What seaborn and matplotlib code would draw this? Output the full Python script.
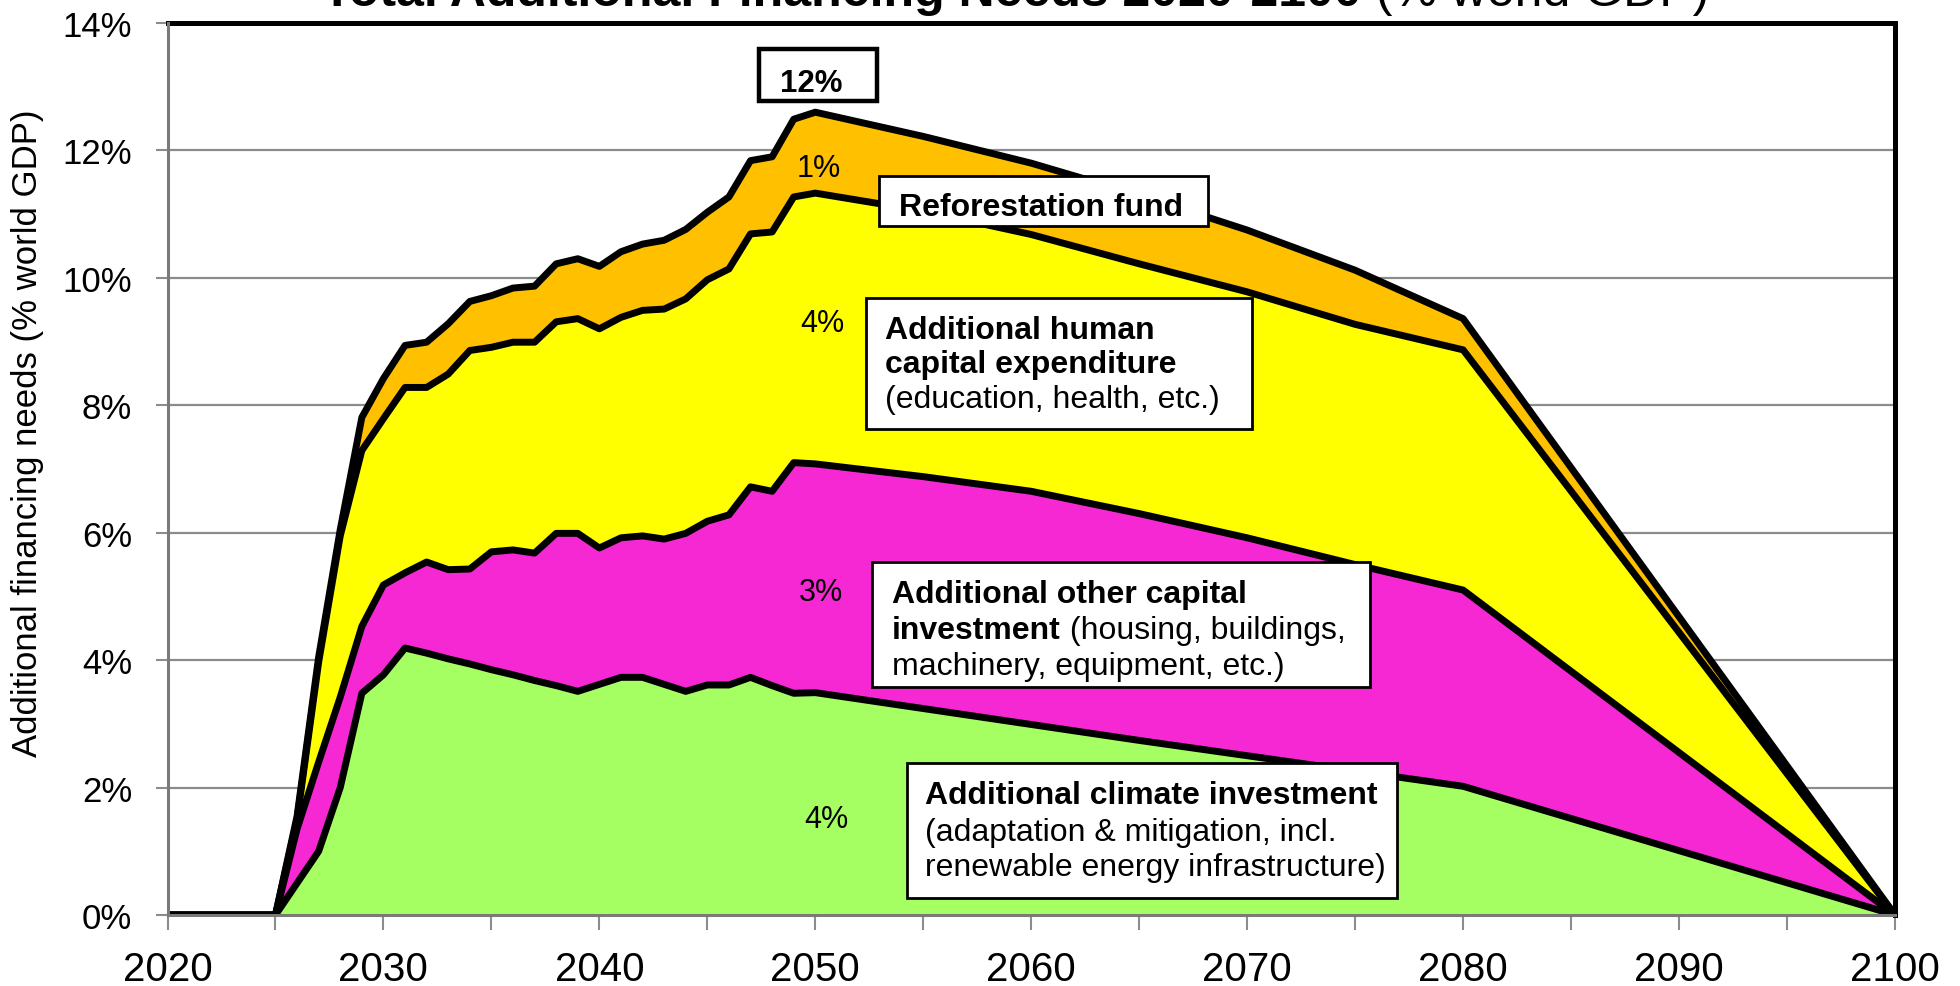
import numpy as np
import matplotlib
matplotlib.use("Agg")
import matplotlib.pyplot as plt
import seaborn as sns
from matplotlib.patches import Rectangle
from matplotlib.text import Annotation
from matplotlib.ticker import FuncFormatter, MultipleLocator

# ---------------- data ----------------
years = [2020, 2021, 2022, 2023, 2024, 2025, 2026, 2027, 2028, 2029,
         2030, 2031, 2032, 2033, 2034, 2035, 2036, 2037, 2038, 2039,
         2040, 2041, 2042, 2043, 2044, 2045, 2046, 2047, 2048, 2049,
         2050, 2055, 2060, 2065, 2070, 2075, 2080, 2100]

# cumulative upper edge of each band (% of world GDP)
top_climate = [0, 0, 0, 0, 0, 0, 0.50, 1.00, 2.00, 3.48,
               3.77, 4.19, 4.11, 4.02, 3.94, 3.85, 3.77, 3.68, 3.60, 3.51,
               3.62, 3.73, 3.73, 3.62, 3.51, 3.61, 3.61, 3.73, 3.60, 3.48,
               3.49, 3.24, 2.99, 2.74, 2.50, 2.26, 2.02, 0]
top_other = [0, 0, 0, 0, 0, 0, 1.35, 2.40, 3.42, 4.53,
             5.18, 5.37, 5.54, 5.42, 5.43, 5.70, 5.73, 5.68, 5.99, 5.99,
             5.76, 5.92, 5.95, 5.90, 5.99, 6.18, 6.28, 6.72, 6.65, 7.10,
             7.08, 6.88, 6.65, 6.30, 5.92, 5.50, 5.10, 0]
top_human = [0, 0, 0, 0, 0, 0, 1.50, 3.97, 5.95, 7.29,
             7.79, 8.28, 8.28, 8.49, 8.86, 8.91, 8.99, 8.99, 9.31, 9.36,
             9.20, 9.38, 9.49, 9.51, 9.67, 9.97, 10.14, 10.69, 10.72, 11.27,
             11.33, 11.05, 10.68, 10.22, 9.78, 9.27, 8.87, 0]
top_total = [0, 0, 0, 0, 0, 0, 1.55, 4.05, 6.05, 7.81,
             8.42, 8.94, 8.99, 9.28, 9.63, 9.72, 9.84, 9.87, 10.22, 10.30,
             10.18, 10.41, 10.53, 10.59, 10.76, 11.03, 11.27, 11.84, 11.90, 12.49,
             12.60, 12.22, 11.80, 11.30, 10.75, 10.12, 9.36, 0]

band_colors = ["#A6FF62", "#F628D4", "#FFFF00", "#FFC000"]
pct_labels = ["4%", "3%", "4%", "1%"]
peak_label = "12%"
y_ticks = [0, 2, 4, 6, 8, 10, 12, 14]
x_ticks = [2020, 2030, 2040, 2050, 2060, 2070, 2080, 2090, 2100]

# ---------------- figure ----------------
sns.set_theme(style="white")
plt.rcParams["font.family"] = ["Liberation Sans", "DejaVu Sans"]
plt.rcParams["text.color"] = "black"
plt.rcParams["axes.labelcolor"] = "black"

W, H = 1960, 987
fig = plt.figure(figsize=(W / 100, H / 100), dpi=100)
fig.patch.set_facecolor("white")


def fx(px):
    return px / W


def fy(py):
    return 1 - py / H


ax = fig.add_axes([fx(167.5), fy(916), fx(1895) - fx(167.5), fy(24) - fy(916)])
ax.set_facecolor("white")

yrs = np.array(years, dtype=float)
layers = [np.zeros(len(years)), np.array(top_climate), np.array(top_other),
          np.array(top_human), np.array(top_total)]
for i, c in enumerate(band_colors):
    ax.fill_between(yrs, layers[i], layers[i + 1], color=c, lw=0, zorder=2)

for top in layers[1:]:
    sns.lineplot(x=yrs, y=top, ax=ax, color="black", lw=5.0, zorder=3,
                 sort=False, estimator=None, solid_joinstyle="round",
                 solid_capstyle="round")

ax.set_xlim(2020, 2100)
ax.set_ylim(0, 14)
ax.set_xticks(x_ticks)
ax.xaxis.set_minor_locator(MultipleLocator(5))
ax.set_yticks(y_ticks)
ax.yaxis.set_major_formatter(FuncFormatter(lambda v, p: f"{int(round(v))}%"))
ax.set_xlabel("")
ax.set_ylabel("")

ax.yaxis.grid(True, color="#8c8c8c", lw=1.6, zorder=0.5)
ax.xaxis.grid(False)
ax.set_axisbelow(True)

ax.tick_params(axis="y", which="major", direction="out", length=8.5, width=1.5,
               color="#8c8c8c", labelcolor="black", labelsize=25, pad=17, left=True)
ax.tick_params(axis="x", which="both", direction="out", length=11, width=1.5,
               color="#8c8c8c", labelcolor="black", labelsize=29, pad=14, bottom=True)

for side in ["top", "right"]:
    ax.spines[side].set_color("black")
    ax.spines[side].set_linewidth(3.6)
for side in ["left", "bottom"]:
    ax.spines[side].set_color("#7a7a7a")
    ax.spines[side].set_linewidth(2.2)
    ax.spines[side].set_zorder(4)

fig.text(fx(27.5), fy(433), "Additional financing needs (% world GDP)",
         rotation=90, ha="center", va="center", fontsize=25, color="black")

# ---------------- title (cut off at the top as in the reference) ----------------
t1 = fig.text(fx(322), fy(6), "Total Additional Financing Needs 2020-2100",
              fontsize=36, fontweight="bold", ha="left", va="baseline",
              color="black")
fig.add_artist(Annotation(" (% world GDP)", xy=(1, 0), xycoords=t1, fontsize=36,
                          ha="left", va="bottom", annotation_clip=False,
                          color="black"))


# ---------------- annotation boxes ----------------
def box(x0, y0, x1, y1, lw=2.0):
    r = Rectangle((fx(x0), fy(y1)), fx(x1) - fx(x0), fy(y0) - fy(y1),
                  transform=fig.transFigure, facecolor="white",
                  edgecolor="black", lw=lw, zorder=5)
    fig.add_artist(r)


def txt(x, y, s, bold=False, size=23, ha="left"):
    return fig.text(fx(x), fy(y), s, fontsize=size, ha=ha, va="baseline",
                    fontweight="bold" if bold else "normal", zorder=6,
                    color="black")


box(759, 50, 877, 102, lw=3.2)
txt(811, 92, peak_label, bold=True, size=22.5, ha="center")

box(879, 177, 1208, 227)
txt(899, 216, "Reforestation fund", bold=True, size=23)

box(866, 299, 1252, 430)
txt(885, 339, "Additional human", bold=True)
txt(885, 373, "capital expenditure", bold=True)
txt(885, 408, "(education, health, etc.)")

box(872, 563, 1370, 688)
txt(892, 603, "Additional other capital", bold=True)
inv = txt(892, 639, "investment", bold=True)
fig.add_artist(Annotation(" (housing, buildings,", xy=(1, 0), xycoords=inv,
                          fontsize=23, ha="left", va="bottom",
                          annotation_clip=False, zorder=7, color="black"))
txt(892, 675, "machinery, equipment, etc.)")

box(907, 764, 1397, 899)
txt(925, 804, "Additional climate investment", bold=True)
txt(925, 841, "(adaptation & mitigation, incl.")
txt(925, 876, "renewable energy infrastructure)")

# percentage labels inside bands (green, pink, yellow, orange)
pct_pos = [(826, 828), (821, 601), (822, 332), (819, 177)]
for (px_, py_), s in zip(pct_pos, pct_labels):
    txt(px_, py_, s, size=22, ha="center")

fig.savefig("out.png", dpi=100, facecolor="white")
